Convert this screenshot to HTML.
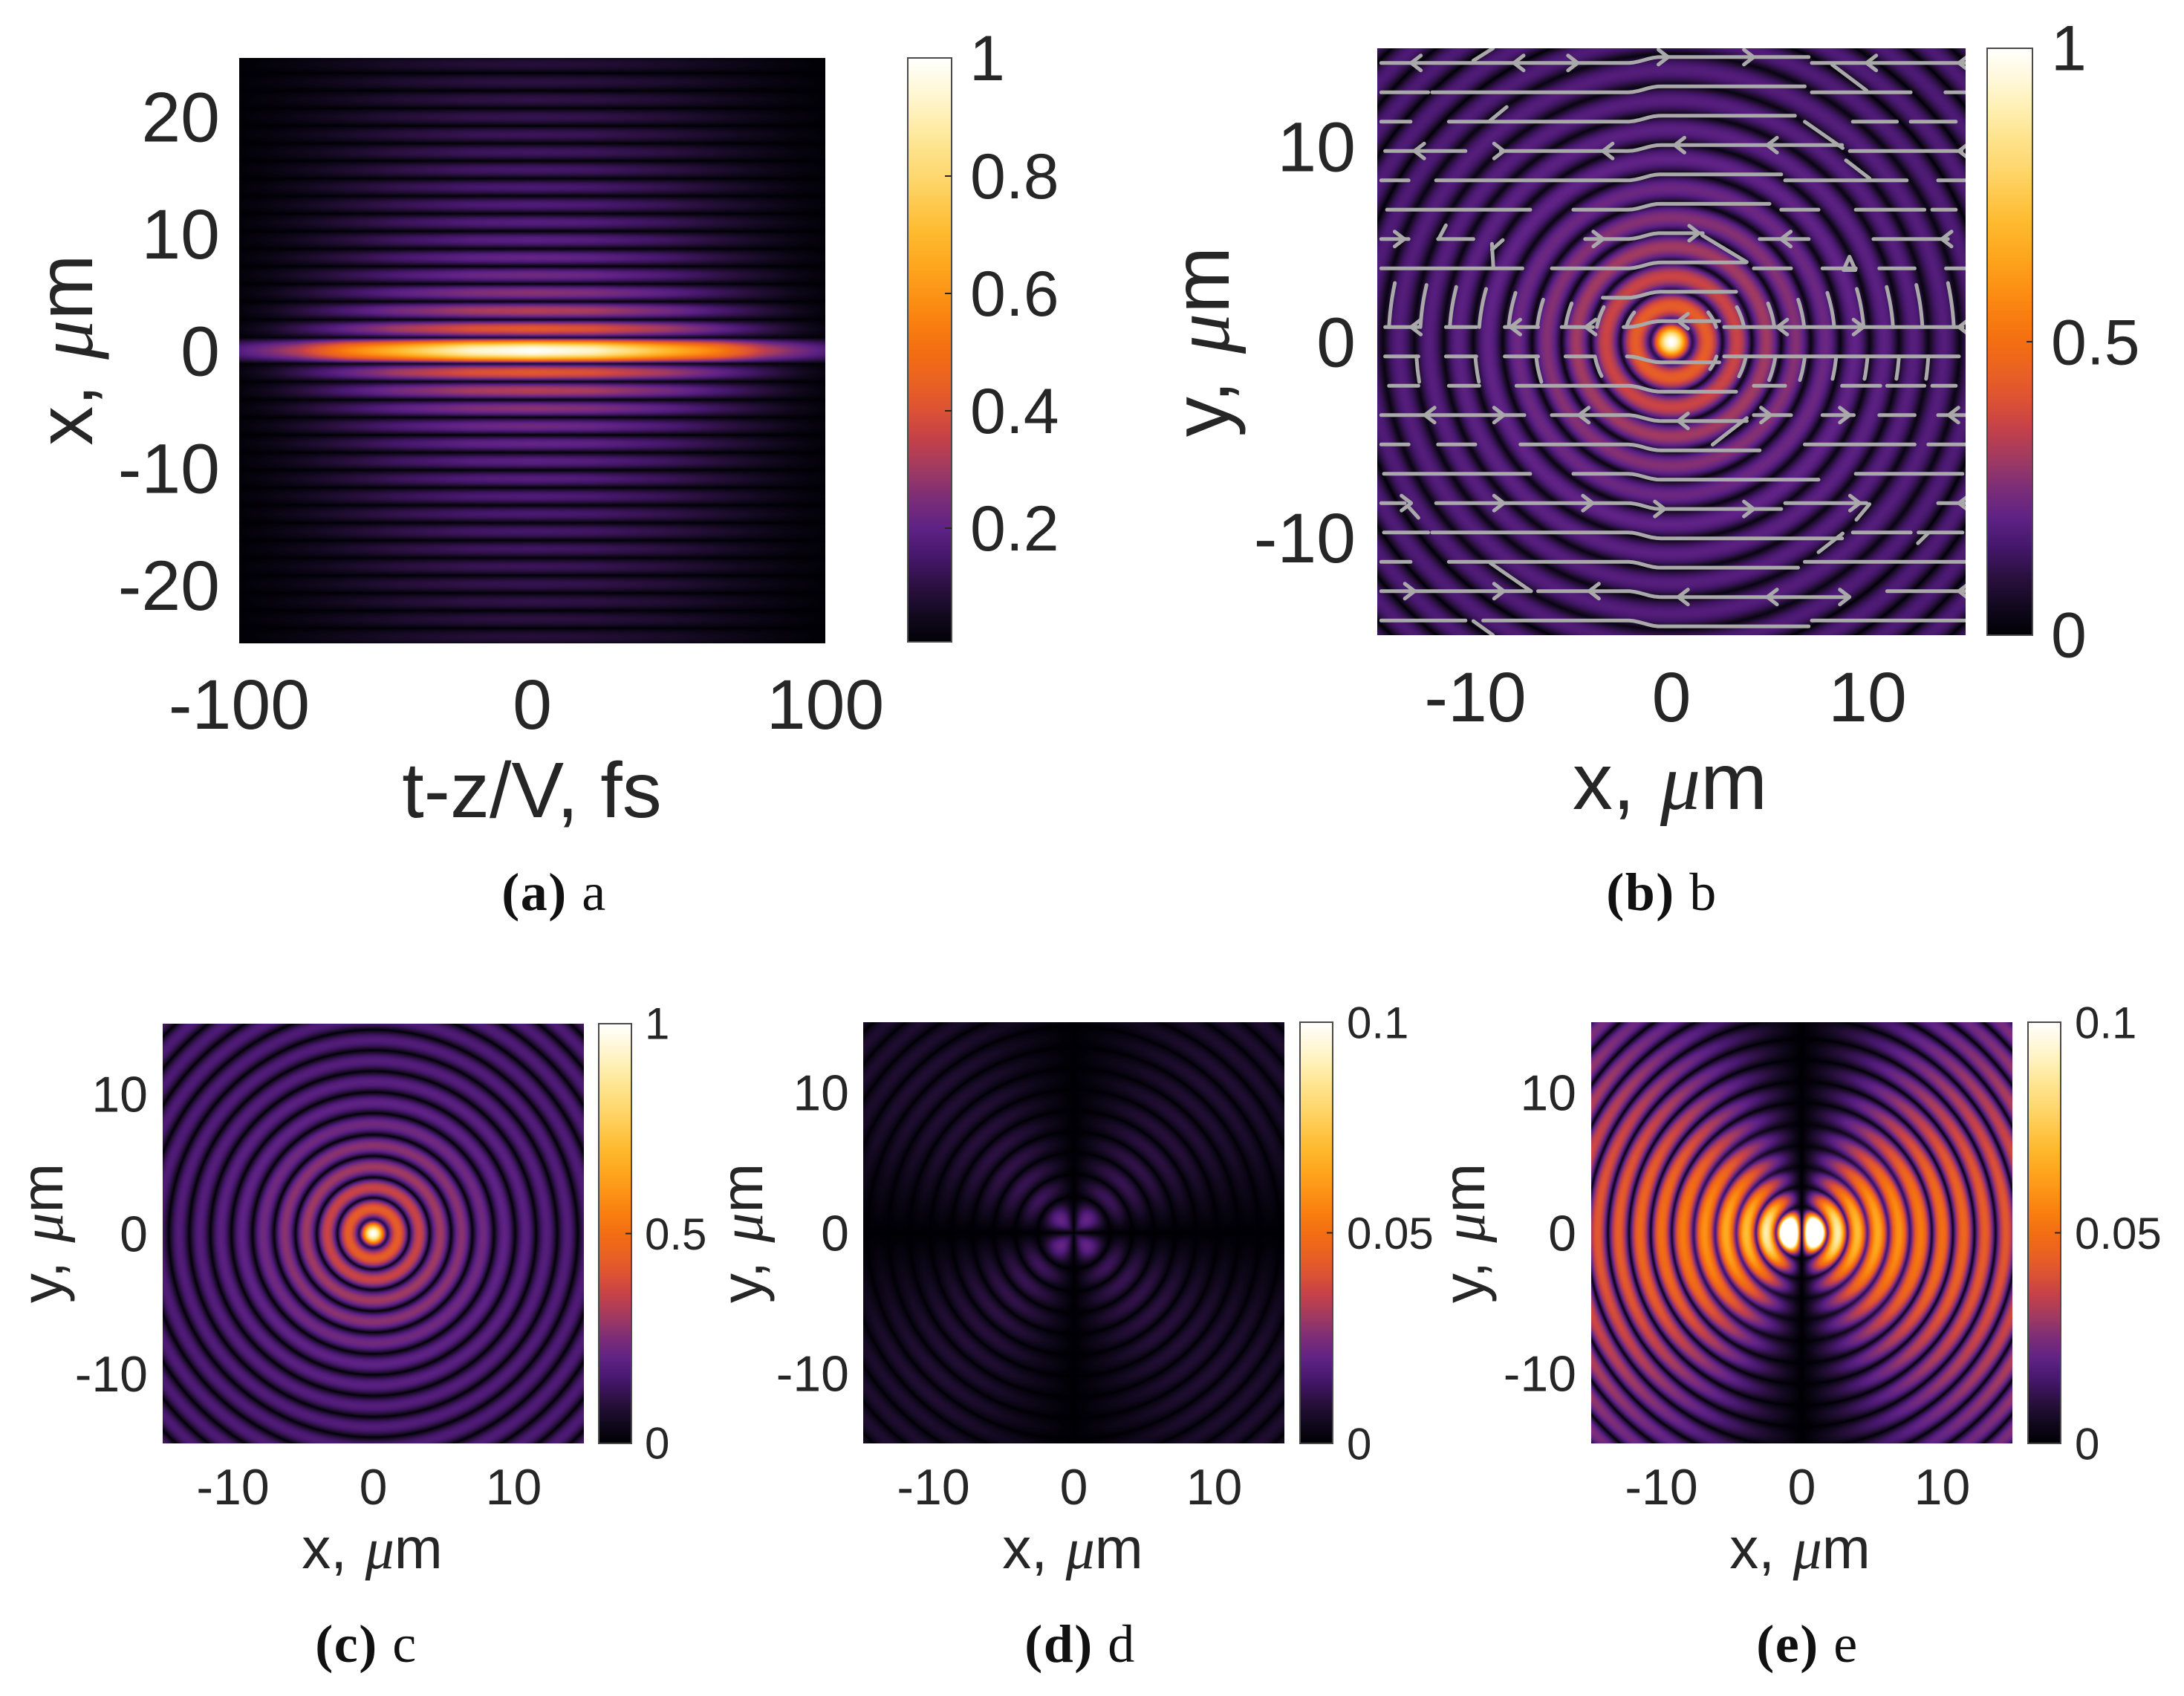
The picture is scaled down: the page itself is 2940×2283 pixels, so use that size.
<!DOCTYPE html>
<html lang="en">
<head>
<meta charset="utf-8">
<title>Beam intensity panels</title>
<style>
html,body{margin:0;padding:0;background:#fff;}
#stage{position:relative;width:2940px;height:2283px;overflow:hidden;background:#fff;}
canvas{position:absolute;display:block;}
svg{position:absolute;left:0;top:0;}
text{font-family:"Liberation Sans",sans-serif;fill:#262626;}
.cap{font-family:"Liberation Serif",serif;font-size:72px;fill:#111;letter-spacing:1.5px;}
.cap tspan.b{font-weight:bold;}
.mu{font-family:"Liberation Serif",serif;font-style:italic;}
</style>
</head>
<body>
<div id="stage">
<canvas id="heat-a" width="789" height="788" style="left:322px;top:78px"></canvas>
<canvas id="heat-b" width="792" height="790" style="left:1854px;top:65px"></canvas>
<canvas id="heat-c" width="567" height="565" style="left:219px;top:1378px"></canvas>
<canvas id="heat-d" width="567" height="567" style="left:1162px;top:1376px"></canvas>
<canvas id="heat-e" width="567" height="567" style="left:2142px;top:1376px"></canvas>
<canvas id="bar-a" width="59" height="786" style="left:1222px;top:78px"></canvas>
<canvas id="bar-b" width="61" height="790" style="left:2675px;top:65px"></canvas>
<canvas id="bar-c" width="44" height="565" style="left:806px;top:1378px"></canvas>
<canvas id="bar-d" width="44" height="567" style="left:1750px;top:1376px"></canvas>
<canvas id="bar-e" width="44" height="567" style="left:2730px;top:1376px"></canvas>
<svg id="overlay" width="2940" height="2283" viewBox="0 0 2940 2283">
<defs><clipPath id="clip-b"><rect x="1854" y="65" width="792" height="790"/></clipPath></defs>
<g id="streams" clip-path="url(#clip-b)" fill="none" stroke="#a9a9a9" stroke-width="5" stroke-linejoin="round" stroke-linecap="round"></g>
<g id="ticks"></g>

<text x="716" y="1100" font-size="106" text-anchor="middle">t-z/V, fs</text>
<text transform="translate(124,471) rotate(-90)" font-size="106" text-anchor="middle">x, <tspan class="mu" dx="4">μ</tspan>m</text>

<text x="2248" y="1089" font-size="108" text-anchor="middle">x, <tspan class="mu" dx="4">μ</tspan>m</text>
<text transform="translate(1654,460) rotate(-90)" font-size="108" text-anchor="middle">y, <tspan class="mu" dx="6">μ</tspan>m</text>

<text x="501" y="2111" font-size="78" text-anchor="middle">x, <tspan class="mu" dx="3">μ</tspan>m</text>
<text transform="translate(84,1660) rotate(-90)" font-size="80" text-anchor="middle">y, <tspan class="mu" dx="3">μ</tspan>m</text>

<text x="1444" y="2111" font-size="78" text-anchor="middle">x, <tspan class="mu" dx="3">μ</tspan>m</text>
<text transform="translate(1026,1660) rotate(-90)" font-size="80" text-anchor="middle">y, <tspan class="mu" dx="3">μ</tspan>m</text>

<text x="2423" y="2111" font-size="78" text-anchor="middle">x, <tspan class="mu" dx="3">μ</tspan>m</text>
<text transform="translate(1998,1660) rotate(-90)" font-size="80" text-anchor="middle">y, <tspan class="mu" dx="3">μ</tspan>m</text>

<text class="cap" x="746" y="1225" text-anchor="middle"><tspan class="b">(a)</tspan> a</text>
<text class="cap" x="2237" y="1225" text-anchor="middle"><tspan class="b">(b)</tspan> b</text>
<text class="cap" x="493" y="2237" text-anchor="middle"><tspan class="b">(c)</tspan> c</text>
<text class="cap" x="1454" y="2237" text-anchor="middle"><tspan class="b">(d)</tspan> d</text>
<text class="cap" x="2433" y="2237" text-anchor="middle"><tspan class="b">(e)</tspan> e</text>
</svg>
</div>

<script>
// ---- colour scale ----
const colorStopValues=[0,.05,.1,.15,.2,.25,.3,.35,.4,.45,.5,.55,.6,.65,.7,.75,.8,.85,.9,.95,1];
const colorStopHex=['#000004','#12091f','#2b1040','#45176b','#5f2285','#7c2d78','#a03a62','#c4404a','#dc5234','#ea6222','#f36e12','#f98010','#fd9416','#fea81f','#feb92e','#fec94e','#fed870','#fee48f','#fff0b5','#fff8dc','#fffffe'];

// ---- ring profiles: zero crossings (um), lobe peaks, residual level at each zero ----
const zerosA=[-1.1,1.1,2.64,4.19,5.7,7.2,8.7,10.2,11.7,13.2,14.7,16.2,17.7,19.2,20.7,22.2,23.7,25.2];
const peaksA=[1,.42,.33,.27,.23,.21,.19,.18,.17,.16,.15,.14,.13,.12,.11,.1,.09];
const floorsA=[0,.06,.03,.02,.01];
const envTimes=[0,21,46,63,80,90,100];
const envCore=[1,.93,.7,.55,.33,.25,.18];
const envBand=[1,.94,.72,.5,.28,.15,.05];

const zerosB=[-1.08,1.08,2.6,4.1,5.6,7.1,8.6,10.1,11.6,13.1,14.7,16.2,17.7,19.2,20.7,22.2];
const peaksB=[1,.43,.36,.3,.26,.22,.2,.19,.18,.175,.17,.17,.165,.165,.16];
const floorsB=[0,.11,.05,.04,.03,.03,.03,.03,.03,.03,.03];

const zerosC=[-1.02,1.02,2.55,4.01,5.54,7.06,8.6,10.1,11.6,13.1,14.56,16.05,17.55,19.05,20.55,22.05];
const peaksC=[1,.43,.36,.3,.27,.23,.2,.19,.18,.175,.17,.17,.165,.165,.16];
const floorsC=[0,.1,.03,.01];

const zerosD=[0,2.6,4.15,5.7,7.2,8.7,10.2,11.7,13.2,14.7,16.2,17.7,19.2,20.7,22.2];
const peaksD=[.21,.13,.12,.11,.1,.09,.085,.08,.08,.08,.075,.075,.075,.075];
const floorsD=[0];

const zerosE=[0,1.85,3.26,4.67,6.17,7.7,9.26,10.76,12.3,13.8,15.3,16.8,18.3,19.8,21.3,22.8];
const peaksE=[1.9,.88,.7,.64,.58,.53,.5,.47,.44,.42,.4,.38,.36,.35,.34];
const floorsE=[0,.2,.15,.18,.15,.12,.05,.02];

// ---- tick labels ----
const xTicksA=[-100,0,100];
const yTicksA=[20,10,0,-10,-20];
const xyTicks=[-10,0,10];
const yTicksB=[10,0,-10];
const barTicksA=[.8,.6,.4,.2];
const barLabelsA=['1','0.8','0.6','0.4','0.2'];
const barLabelsFull=['1','0.5','0'];
const barLabelsTenth=['0.1','0.05','0'];

// ---- streamlines in panel b (um) ----
const streamRowY=[14.25,12.75,11.25,9.75,8.25,6.75,5.25,3.75,2.25,.75,-.75,-2.25,-3.75,-5.25,-6.75,-8.25,-9.75,-11.25,-12.75,-14.25];
const streamSegments=[
[[-14.8,7],[7.16,15]],
[[-14.8,-12.4],[-12.2,6.8],[7.16,9.95],[9.95,12.2],[13.97,15]],
[[-14.8,-13.3],[-11.35,6.3],[9.25,11.5],[12.2,14.5]],
[[-14.6,-10.5],[-8.7,8.7],[9.1,14.8]],
[[-14.8,-13.4],[-12,5.6],[5.8,12],[13.6,15]],
[[-14.5,-7.2],[-5,5],[5.6,7.5],[9.4,12.9],[13.3,14.5]],
[[-14.8,-13.4],[-11.9,-10.1],[-4.4,1.6],[4.5,7],[10.3,14.1]],
[[-14.8,-7.6],[-6.1,3.8],[4.2,6.1],[7.7,9.4],[10.6,12.4],[14,15]],
[[-3.5,3.3]],
[[-14.6,-12.9],[-11.5,-9.95],[-8.5,-6.8],[-5.6,-4],[-2.44,2.44],[2.69,14.85]],
[[-14.6,-12.9],[-11.5,-9.95],[-8.5,-6.8],[-5.4,-4],[-2.27,2.44],[2.69,14.66]],
[[-14.4,-12.9],[-11.35,-9.8],[-7.9,3.3],[4.2,5.8],[8.7,10.65],[11,12.9],[13.3,14.5]],
[[-14.8,-7.5],[-6.1,3.84],[4.2,6.1],[7.7,9.3],[10.6,12.4],[13.6,15]],
[[-14.8,-13.4],[-11.9,-10.1],[-7.7,4.5],[6.8,12.4],[13.1,15]],
[[-14.66,-7.2],[-5,7.5],[9.4,14.84]],
[[-14.8,-13.6],[-12,5.6],[5.8,9.95],[13.6,15]],
[[-14.66,-12.4],[-12.2,8.7],[9.25,12.2],[12.6,14.84]],
[[-14.8,-13.3],[-11.35,6.46],[6.8,15]],
[[-14.8,-7.16],[-6.8,9],[11,15]],
[[-14.8,-10.5],[-9.6,7],[7.16,15]]
];
const streamStrays=[
[[-10.1,14.37],[-9.1,15]],
[[8.2,14.16],[9.95,12.84]],
[[-9.25,11.3],[-8.4,12]],
[[6.8,11.25],[8.73,9.9]],
[[8.9,9.27],[10.1,8.35]],
[[-9.08,3.76],[-9.15,5]],
[[-9.15,4.7],[-8.6,5.2]],
[[1.57,5.44],[3.84,4.07]],
[[2.1,-5.26],[3.84,-3.9]],
[[7.5,-10.76],[8.73,-9.8]],
[[-9.25,-11.3],[-7.16,-12.75]],
[[-13.44,-8.4],[-12.9,-9]],
[[-10.1,-14.28],[-9.1,-15]],
[[12.57,-10.3],[13.1,-9.78]],
[[9.43,-9.1],[10.1,-8.3]],
[[-11.87,5.25],[-11.5,5.95]],
[[-10.1,-5.25],[-10,-5.25]]
];
const arrowRowY=[14.25,9.75,5.25,.75,-3.75,-8.25,-12.75];
const arrowX=[
[-13.27,-8.03,-4.78,-.17,4.19,9.95,14.66],
[-13.1,-8.55,-3.49,.17,4.89,14.66],
[-13.62,-3.49,1.4,5.59,13.79],
[-13.27,-8.2,-4.36,.35,5.41,9.78,14.66],
[-12.57,-8.55,-4.71,.35,5.06,9.08,14.14],
[-13.27,-8.55,-4.02,-.35,4.19,9.6,14.66],
[-13.1,-8.55,-4.19,.35,4.89,9.08,14.66]
];
const arrowDir=[
[-1,-1,1,1,1,-1,-1],
[-1,1,-1,-1,-1,-1],
[1,1,1,-1,-1],
[-1,-1,-1,-1,-1,1,-1],
[-1,1,-1,-1,1,1,-1],
[1,1,1,1,1,1,-1],
[1,1,-1,-1,-1,1,-1]
];
const hookUpperX=[-14.4,-12.8,-11.3,-9.8,-8.3,-6.84,-5.4,-3.8,-2.3,2.28,3.7,5.25,6.77,8.3,9.8,11.3,12.8,14.4];
const hookUpperTop=[3,2.9,2.8,2.7,2.5,2.15,1.96,1.77,1.5,1.5,1.77,1.96,2.15,2.5,2.7,2.8,2.9,3];
const hookLowerX=[-13,-10,-6.9,-3.9,2.3,3.8,5.3,6.8,8.4,10,11.6,13.1];
const hookLowerEnd=[-2.05,-2.05,-2.05,-1.75,-1.4,-1.77,-1.96,-1.96,-1.9,-1.9,-1.9,-1.9];

// ---- plumbing ----
const ringSharpness=.78;
const panels={
 a:{left:322,top:78,w:789,h:788,x0:-100,x1:100,y0:25,y1:-25},
 b:{left:1854,top:65,w:792,h:790,x0:-15,x1:15,y0:15,y1:-15},
 c:{left:219,top:1378,w:567,h:565,x0:-15,x1:15,y0:15,y1:-15},
 d:{left:1162,top:1376,w:567,h:567,x0:-15,x1:15,y0:15,y1:-15},
 e:{left:2142,top:1376,w:567,h:567,x0:-15,x1:15,y0:15,y1:-15}
};
function sx(p,v){return p.left+(v-p.x0)/(p.x1-p.x0)*p.w;}
function sy(p,v){return p.top+(v-p.y0)/(p.y1-p.y0)*p.h;}

function hexRgb(h){return [parseInt(h.substr(1,2),16),parseInt(h.substr(3,2),16),parseInt(h.substr(5,2),16)];}
const lut=[];
(function(){
 for(let i=0;i<=1000;i++){
  const v=i/1000;let k=0;
  while(k<colorStopValues.length-2&&v>colorStopValues[k+1])k++;
  const t=(v-colorStopValues[k])/(colorStopValues[k+1]-colorStopValues[k]);
  const a=hexRgb(colorStopHex[k]),b=hexRgb(colorStopHex[k+1]);
  lut.push([a[0]+(b[0]-a[0])*t,a[1]+(b[1]-a[1])*t,a[2]+(b[2]-a[2])*t]);
 }
})();
function color(v){return lut[Math.max(0,Math.min(1000,Math.round(v*1000)))];}

function ringProfile(r,zeros,peaks,floors,coreSharp){
 let i=0;const n=peaks.length;
 while(i<n-1&&r>=zeros[i+1])i++;
 const t=Math.max(0,Math.min(1,(r-zeros[i])/(zeros[i+1]-zeros[i])));
 const power=i===0?(coreSharp||1):ringSharpness;
 const base=peaks[i]*Math.pow(Math.sin(Math.PI*t),power);
 const f0=i<floors.length?floors[i]:0,f1=i+1<floors.length?floors[i+1]:0;
 const f=f0+(f1-f0)*t;
 return Math.sqrt(base*base+f*f);
}
function segmentIndex(r,zeros,n){let i=0;while(i<n-1&&r>=zeros[i+1])i++;return i;}
function interp(xs,ys,v){
 if(v<=xs[0])return ys[0];
 for(let i=0;i<xs.length-1;i++){if(v<=xs[i+1]){return ys[i]+(ys[i+1]-ys[i])*(v-xs[i])/(xs[i+1]-xs[i]);}}
 return ys[ys.length-1];
}
function paint(id,p,fn){
 const cv=document.getElementById(id),ctx=cv.getContext('2d');
 const im=ctx.createImageData(p.w,p.h),d=im.data;
 for(let j=0;j<p.h;j++){
  const y=p.y0+(j+.5)/p.h*(p.y1-p.y0);
  for(let i=0;i<p.w;i++){
   const x=p.x0+(i+.5)/p.w*(p.x1-p.x0);
   const c=color(fn(x,y)),o=(j*p.w+i)*4;
   d[o]=c[0];d[o+1]=c[1];d[o+2]=c[2];d[o+3]=255;
  }
 }
 ctx.putImageData(im,0,0);
}
function paintBar(id,lowValue){
 const cv=document.getElementById(id),ctx=cv.getContext('2d');
 for(let j=0;j<cv.height;j++){
  const v=1-(j+.5)/cv.height*(1-lowValue),c=color(v);
  ctx.fillStyle='rgb('+Math.round(c[0])+','+Math.round(c[1])+','+Math.round(c[2])+')';
  ctx.fillRect(0,j,cv.width,1);
 }
}

paint('heat-a',panels.a,function(t,x){
 const r=Math.abs(x),i=segmentIndex(r,zerosA,peaksA.length);
 const env=interp(envTimes,i===0?envCore:envBand,Math.abs(t));
 return ringProfile(r,zerosA,peaksA,floorsA,.75)*env;
});
paint('heat-b',panels.b,function(x,y){return ringProfile(Math.hypot(x,y),zerosB,peaksB,floorsB);});
paint('heat-c',panels.c,function(x,y){return ringProfile(Math.hypot(x,y),zerosC,peaksC,floorsC);});
paint('heat-d',panels.d,function(x,y){
 const r2=x*x+y*y;if(r2===0)return 0;
 return ringProfile(Math.sqrt(r2),zerosD,peaksD,floorsD)*Math.abs(2*x*y)/r2;
});
paint('heat-e',panels.e,function(x,y){
 const r=Math.hypot(x,y);if(r===0)return 0;
 return ringProfile(r,zerosE,peaksE,floorsE)*Math.abs(x)/r;
});
paintBar('bar-a',.006);paintBar('bar-b',0);paintBar('bar-c',0);paintBar('bar-d',0);paintBar('bar-e',0);

// ---- ticks and colour bar frames ----
const NS='http://www.w3.org/2000/svg';
const tickLayer=document.getElementById('ticks');
function addLabel(x,y,size,anchor,str,kind){
 const el=document.createElementNS(NS,'text');
 el.setAttribute('x',x);el.setAttribute('y',y);
 el.setAttribute('font-size',size);el.setAttribute('text-anchor',anchor);
 
 
 el.textContent=str;tickLayer.appendChild(el);
}
function axisLabels(p,xTicks,yTicks,size,xBase,yRight,tag){
 xTicks.forEach(function(v){addLabel(sx(p,v),xBase,size,'middle',String(v),'x-tick-label-'+tag);});
 yTicks.forEach(function(v){addLabel(yRight,sy(p,v)+size*.355,size,'end',String(v),'y-tick-label-'+tag);});
}
axisLabels(panels.a,xTicksA,yTicksA,95,981,296,'a');
axisLabels(panels.b,xyTicks,yTicksB,95,971,1825,'b');
axisLabels(panels.c,xyTicks,yTicksB,68,2025,199,'c');
axisLabels(panels.d,xyTicks,yTicksB,68,2025,1143,'d');
axisLabels(panels.e,xyTicks,yTicksB,68,2025,2122,'e');

function frame(x,y,w,h){
 const el=document.createElementNS(NS,'rect');
 el.setAttribute('x',x);el.setAttribute('y',y);el.setAttribute('width',w);el.setAttribute('height',h);
 el.setAttribute('fill','none');el.setAttribute('stroke','#4a4a4a');el.setAttribute('stroke-width','2');
 
 
 tickLayer.appendChild(el);
}
function barTick(xr,y,len){
 const el=document.createElementNS(NS,'line');
 el.setAttribute('x1',xr-len);el.setAttribute('x2',xr);el.setAttribute('y1',y);el.setAttribute('y2',y);
 el.setAttribute('stroke','#262626');el.setAttribute('stroke-width','2');
 
 
 tickLayer.appendChild(el);
}
frame(1222,78,59,786);
frame(2675,65,61,790);
frame(806,1378,44,565);
frame(1750,1376,44,567);
frame(2730,1376,44,567);
function barYA(v){return 79+(1-v)*790;}
barTicksA.forEach(function(v){barTick(1281,barYA(v),9);});
addLabel(1305,108,86,'start',barLabelsA[0],'colorbar-label-a');
barTicksA.forEach(function(v,i){addLabel(1306,barYA(v)+30,86,'start',barLabelsA[i+1],'colorbar-label-a');});
function fullBar(x,top,h,size,labels,tag,labelX,lift){
 const ys=[top,top+h/2,top+h];
 barTick(x,ys[1],8);
 labels.forEach(function(s,i){addLabel(labelX,ys[i]+(i===1?0:-lift+2)+size*.355,size,'start',s,'colorbar-label-'+tag);});
}
fullBar(2736,65,790,86,barLabelsFull,'b',2761,3);
fullBar(850,1378,565,60,barLabelsFull,'c',868,3);
fullBar(1794,1376,567,60,barLabelsTenth,'d',1813,2);
fullBar(2774,1376,567,60,barLabelsTenth,'e',2793,2);

// ---- streamlines ----
const streams=document.getElementById('streams');
const pb=panels.b;
function smooth(t){t=Math.max(0,Math.min(1,t));return t*t*(3-2*t);}
function rowLevel(y0,x,seg){
 if(seg&&!(seg[0]<-1&&seg[1]>0))return y0;
 return y0+Math.sign(y0)*.3*smooth((x+2.2)/1.6);
}
function addPath(points,name){
 const el=document.createElementNS(NS,'polyline');
 el.setAttribute('points',points.map(function(q){return sx(pb,q[0]).toFixed(1)+','+sy(pb,q[1]).toFixed(1);}).join(' '));
 
 
 streams.appendChild(el);
}
streamRowY.forEach(function(y0,r){
 streamSegments[r].forEach(function(seg){
  const pts=[];const n=Math.max(2,Math.ceil((seg[1]-seg[0])/.25));
  for(let i=0;i<=n;i++){const x=seg[0]+(seg[1]-seg[0])*i/n;pts.push([x,rowLevel(y0,x,seg)]);}
  addPath(pts,'streamline');
 });
});
streamStrays.forEach(function(s){addPath(s,'streamline-branch');});
function findSeg(r,x){
 const row=streamRowY.indexOf(r);
 for(const s of streamSegments[row]){if(x>=s[0]-.3&&x<=s[1]+.3)return s;}
 return null;
}
arrowRowY.forEach(function(y0,r){
 arrowX[r].forEach(function(x,i){
  const dir=arrowDir[r][i];
  const y=rowLevel(y0,x,findSeg(y0,x));
  const tipX=sx(pb,x),tipY=sy(pb,y);
  const el=document.createElementNS(NS,'polyline');
  el.setAttribute('points',(tipX-dir*13)+','+(tipY-10)+' '+tipX+','+tipY+' '+(tipX-dir*13)+','+(tipY+10));
  
  
  streams.appendChild(el);
 });
});
(function(){
 const tipX=sx(pb,9.08),tipY=sy(pb,4.35);
 const el=document.createElementNS(NS,'polyline');
 el.setAttribute('points',(tipX-8)+','+(tipY+18)+' '+tipX+','+tipY+' '+(tipX+8)+','+(tipY+18)+' '+(tipX-8)+','+(tipY+18));
 
 
 streams.appendChild(el);
})();
function addHook(x0,yStart,yEnd){
 const R2=x0*x0+yStart*yStart,pts=[];
 for(let i=0;i<=6;i++){
  const y=yStart+(yEnd-yStart)*i/6;
  pts.push([Math.sign(x0)*Math.sqrt(Math.max(0,R2-y*y)),y]);
 }
 addPath(pts,'streamline-hook');
}
hookUpperX.forEach(function(x,i){addHook(x,.75,hookUpperTop[i]);});
hookLowerX.forEach(function(x,i){addHook(x,-.75,hookLowerEnd[i]);});
</script>
</body>
</html>
